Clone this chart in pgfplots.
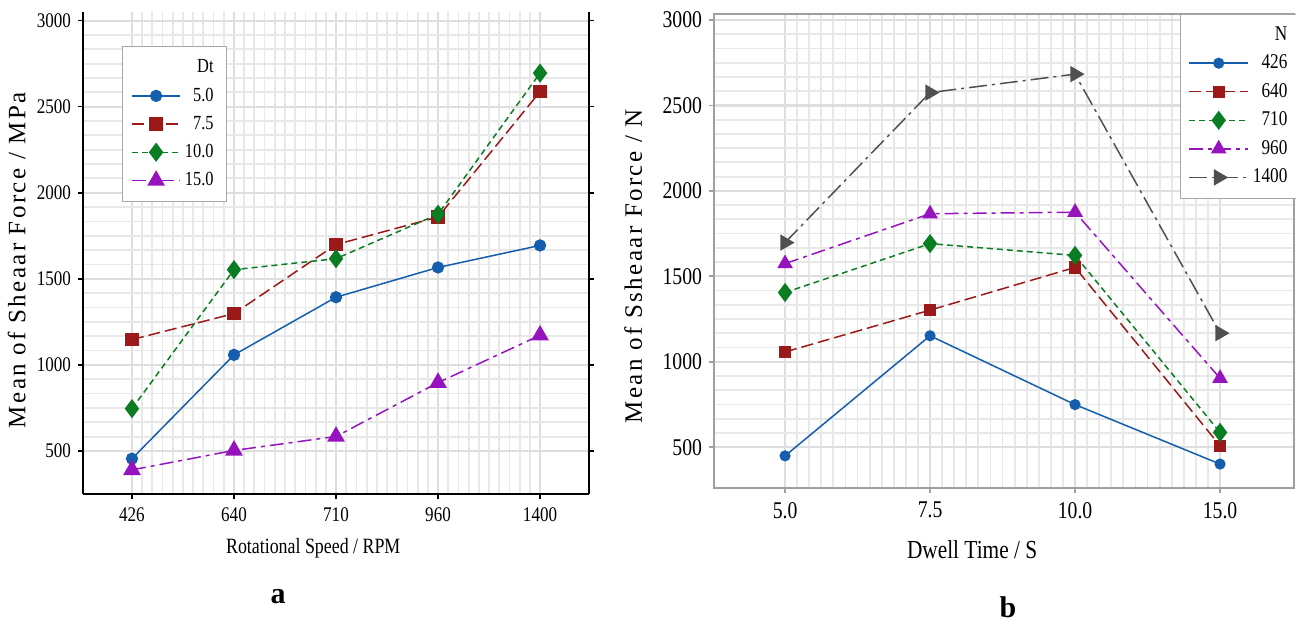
\documentclass[border=0pt]{standalone}
\usepackage{fontspec}
\setmainfont{Liberation Serif}
\newfontfamily\cond[FakeStretch=0.82]{Liberation Serif}
\newfontfamily\condb[FakeStretch=0.76]{Liberation Serif}
\newfontfamily\spaced[LetterSpace=9.5]{Liberation Serif}
\usepackage{pgfplots}
\pgfplotsset{compat=1.18}
\definecolor{cblue}{RGB}{20,94,173}
\definecolor{cred}{RGB}{155,25,25}
\definecolor{cgreen}{RGB}{10,125,35}
\definecolor{cpurple}{RGB}{150,20,190}
\definecolor{cgrey}{RGB}{80,80,80}
\definecolor{gmaj}{RGB}{222,222,222}
\definecolor{gmin}{RGB}{232,232,232}
\pgfplotsset{
  s1/.style={cblue, line width=0.75pt, solid, mark=*, mark size=2.7pt, mark options={solid}},
  s2/.style={cred, line width=0.75pt, dash pattern=on 6pt off 2.5pt, mark=square*, mark size=3pt, mark options={solid}},
  s3/.style={cgreen, line width=0.75pt, dash pattern=on 3pt off 2pt, mark=diamond*, mark size=4.2pt, mark options={solid}},
  s4/.style={cpurple, line width=0.75pt, dash pattern=on 7pt off 2.5pt on 2pt off 2.5pt, mark=triangle*, mark size=4.4pt, mark options={solid}},
  s5/.style={cgrey, line width=0.75pt, dash pattern=on 9pt off 2.5pt on 1.5pt off 2.5pt, mark=triangle*, mark size=4pt, mark options={solid, rotate=-90}},
}
\begin{document}
\begin{tikzpicture}
\useasboundingbox (0,0) rectangle (648pt,312.5pt);
% ---------------- panel a ----------------
\begin{axis}[
  at={(41.5pt,65.5pt)}, anchor=south west,
  width=253pt, height=241pt, scale only axis,
  xmin=-0.48, xmax=4.48, ymin=250, ymax=3050,
  xtick={0,1,2,3,4}, xticklabels={426,640,710,960,1400},
  ytick={500,1000,1500,2000,2500,3000},
  yticklabels={500,1000,1500,2000,2500,3000},
  minor x tick num=9, minor y tick num=5,
  grid=both,
  major grid style={gmaj, line width=1.1pt},
  minor grid style={gmin, line width=0.9pt},
  axis x line*=bottom, axis y line*=box,
  axis line style={black, line width=0.8pt},
  tick align=outside, major tick length=2.5pt, minor tick length=0pt,
  tick style={black, line width=0.8pt},
  ticklabel pos=left,
  xticklabel style={font=\cond\fontsize{10.4}{12}\selectfont, yshift=-1pt},
  yticklabel style={font=\cond\fontsize{10.4}{12}\selectfont},
  xlabel={\cond\fontsize{10.9}{13}\selectfont Rotational Speed / RPM},
  ylabel={\spaced\fontsize{12.5}{14}\selectfont Mean of Sheaar Force / MPa},
  every axis x label/.style={at={(axis description cs:0.455,-0.112)}, anchor=center},
  every axis y label/.style={at={(axis description cs:-0.131,0.485)}, anchor=center, rotate=90},
  legend style={at={(0.077,0.929)}, anchor=north west, draw=gray!70, fill=white,
    font=\cond\fontsize{10}{12}\selectfont, row sep=2pt, inner xsep=4.5pt, inner ysep=4.5pt},
  legend cell align=right,
  legend image code/.code={\draw[mark repeat=2,mark phase=2,#1] plot coordinates {(0pt,0pt) (12pt,0pt) (24pt,0pt)};},
]
\addlegendimage{empty legend}\addlegendentry{Dt}
\addplot[s1] coordinates {(0,455) (1,1058) (2,1393) (3,1566) (4,1694)};
\addlegendentry{5.0}
\addplot[s2] coordinates {(0,1147) (1,1298) (2,1699) (3,1859) (4,2587)};
\addlegendentry{7.5}
\addplot[s3] coordinates {(0,746) (1,1553) (2,1617) (3,1875) (4,2695)};
\addlegendentry{10.0}
\addplot[s4] coordinates {(0,390) (1,503) (2,584) (3,897) (4,1172)};
\addlegendentry{15.0}
\end{axis}
% ---------------- panel b ----------------
\begin{axis}[
  at={(357pt,68.5pt)}, anchor=south west,
  width=290pt, height=237pt, scale only axis,
  xmin=-0.49, xmax=3.51, ymin=261, ymax=3035,
  xtick={0,1,2,3}, xticklabels={5.0,7.5,10.0,15.0},
  ytick={500,1000,1500,2000,2500,3000},
  yticklabels={500,1000,1500,2000,2500,3000},
  minor x tick num=11, minor y tick num=5,
  grid=both,
  major grid style={gmaj, line width=1.1pt},
  minor grid style={gmin, line width=0.9pt},
  axis line style={gray!75, line width=0.8pt},
  tick align=outside, major tick length=2.5pt, minor tick length=0pt,
  tick style={gray!75, line width=0.8pt},
  xtick pos=bottom, ytick pos=left,
  xticklabel style={font=\cond\fontsize{12}{14}\selectfont, yshift=-1pt},
  yticklabel style={font=\cond\fontsize{12}{14}\selectfont},
  xlabel={\cond\fontsize{13}{15}\selectfont Dwell Time / S},
  ylabel={\spaced\fontsize{12.5}{14}\selectfont Mean of Ssheaar Force / N},
  every axis x label/.style={at={(axis description cs:0.445,-0.129)}, anchor=center},
  every axis y label/.style={at={(axis description cs:-0.1395,0.468)}, anchor=center, rotate=90},
  legend style={at={(1.01,1.0)}, anchor=north east, draw=gray!70, fill=white,
    font=\cond\fontsize{10.5}{12}\selectfont, row sep=1.8pt, inner xsep=4pt, inner ysep=4pt},
  legend cell align=right,
  legend image code/.code={\draw[mark repeat=2,mark phase=2,#1] plot coordinates {(0pt,0pt) (14.75pt,0pt) (29.5pt,0pt)};},
]
\addlegendimage{empty legend}\addlegendentry{N}
\addplot[s1, mark size=2.4pt] coordinates {(0,449) (1,1152) (2,749) (3,401)};
\addlegendentry{426}
\addplot[s2, mark size=2.7pt] coordinates {(0,1057) (1,1302) (2,1552) (3,508)};
\addlegendentry{640}
\addplot[s3] coordinates {(0,1405) (1,1691) (2,1622) (3,586)};
\addlegendentry{710}
\addplot[s4, mark size=3.8pt] coordinates {(0,1574) (1,1866) (2,1875) (3,903)};
\addlegendentry{960}
\addplot[s5] coordinates {(0,1697) (1,2575) (2,2683) (3,1167)};
\addlegendentry{1400}
\end{axis}
\node[font=\bfseries\fontsize{15}{17}\selectfont] at (139pt,14pt) {a};
\node[font=\bfseries\fontsize{15}{17}\selectfont] at (504pt,9pt) {b};
\end{tikzpicture}
\end{document}
